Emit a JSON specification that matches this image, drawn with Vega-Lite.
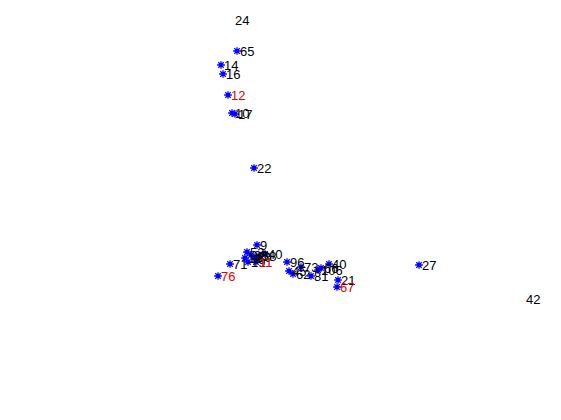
{
  "$schema": "https://vega.github.io/schema/vega-lite/v6.json",
  "width": 561,
  "height": 420,
  "autosize": {"type": "fit", "contains": "padding"},
  "padding": 0,
  "background": "white",
  "config": {"view": {"stroke": null}},
  "data": {
    "values": [
      {"x": 232, "y": 20, "label": "24", "red": false, "marker": false},
      {"x": 237, "y": 51, "label": "65", "red": false, "marker": true},
      {"x": 221, "y": 65, "label": "14", "red": false, "marker": true},
      {"x": 223, "y": 74, "label": "16", "red": false, "marker": true},
      {"x": 228, "y": 95, "label": "12", "red": true, "marker": true},
      {"x": 232, "y": 113, "label": "10", "red": false, "marker": true},
      {"x": 235, "y": 114, "label": "17", "red": false, "marker": true},
      {"x": 254, "y": 168, "label": "22", "red": false, "marker": true},
      {"x": 257, "y": 245, "label": "9", "red": false, "marker": true},
      {"x": 247, "y": 252, "label": "53", "red": false, "marker": true},
      {"x": 251, "y": 255, "label": "38", "red": false, "marker": true},
      {"x": 245, "y": 258, "label": "18", "red": false, "marker": true},
      {"x": 254, "y": 257, "label": "30", "red": false, "marker": true},
      {"x": 259, "y": 256, "label": "58", "red": false, "marker": true},
      {"x": 265, "y": 254, "label": "40", "red": false, "marker": true},
      {"x": 248, "y": 262, "label": "19", "red": false, "marker": true},
      {"x": 256, "y": 262, "label": "11", "red": true, "marker": true},
      {"x": 230, "y": 264, "label": "71", "red": false, "marker": true},
      {"x": 218, "y": 276, "label": "76", "red": true, "marker": true},
      {"x": 287, "y": 262, "label": "96", "red": false, "marker": true},
      {"x": 301, "y": 267, "label": "73", "red": false, "marker": true},
      {"x": 289, "y": 271, "label": "45", "red": false, "marker": true},
      {"x": 293, "y": 274, "label": "62", "red": false, "marker": true},
      {"x": 311, "y": 276, "label": "81", "red": false, "marker": true},
      {"x": 318, "y": 270, "label": "106", "red": false, "marker": true},
      {"x": 321, "y": 268, "label": "66", "red": false, "marker": true},
      {"x": 329, "y": 264, "label": "40", "red": false, "marker": true},
      {"x": 338, "y": 280, "label": "21", "red": false, "marker": true},
      {"x": 337, "y": 287, "label": "67", "red": true, "marker": true},
      {"x": 419, "y": 265, "label": "27", "red": false, "marker": true},
      {"x": 523, "y": 299, "label": "42", "red": false, "marker": false}
    ]
  },
  "encoding": {
    "x": {"field": "x", "type": "quantitative", "scale": {"domain": [0, 561]}, "axis": null},
    "y": {"field": "y", "type": "quantitative", "scale": {"domain": [420, 0]}, "axis": null}
  },
  "layer": [
    {
      "transform": [{"filter": "datum.marker"}],
      "mark": {
        "type": "point",
        "shape": "M-1,0L1,0M0,-1L0,1M-0.7,-0.7L0.7,0.7M-0.7,0.7L0.7,-0.7",
        "filled": false,
        "size": 60,
        "strokeWidth": 1.3,
        "color": "#0000ff",
        "opacity": 1
      }
    },
    {
      "mark": {"type": "text", "align": "left", "baseline": "middle", "dx": 3, "dy": 1, "font": "Liberation Sans", "fontSize": 13},
      "encoding": {
        "text": {"field": "label"},
        "color": {"field": "red", "type": "nominal", "scale": {"domain": [false, true], "range": ["#000000", "#e00000"]}, "legend": null}
      }
    }
  ]
}
